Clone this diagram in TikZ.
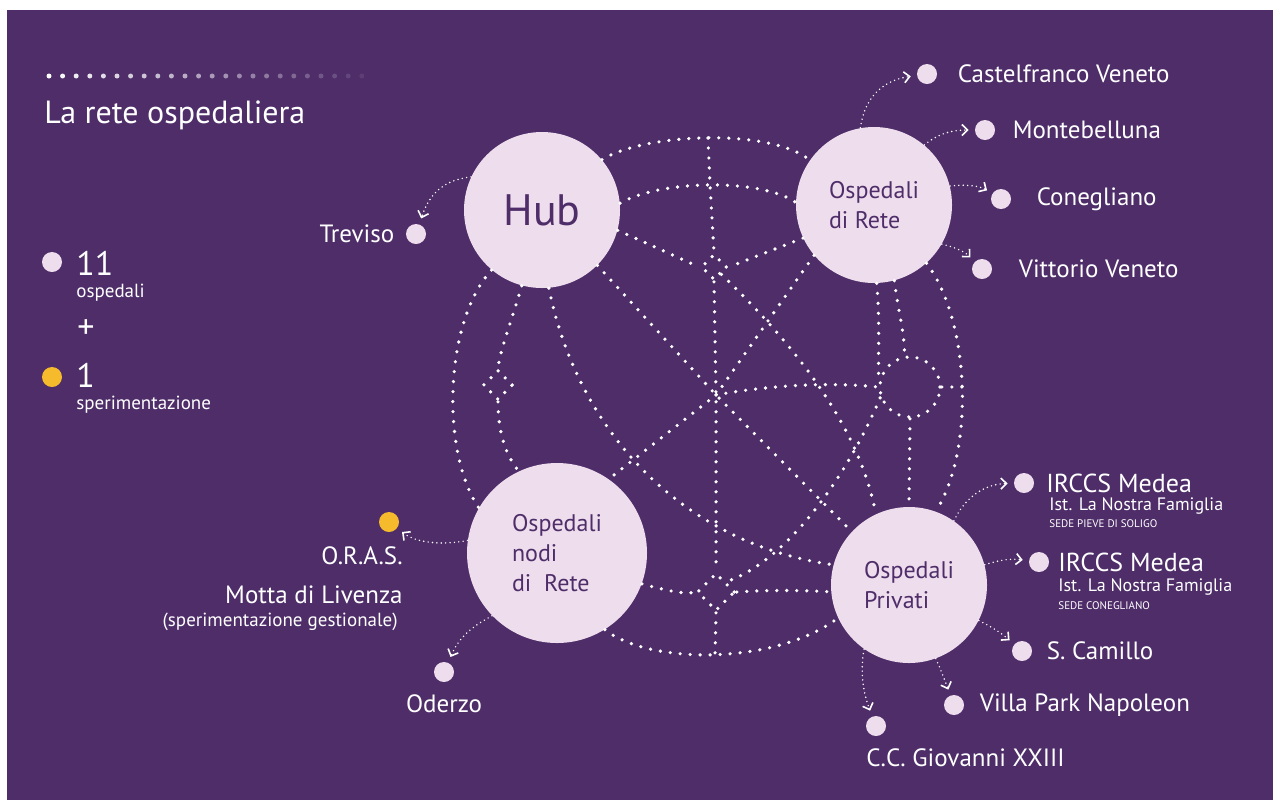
\documentclass[tikz,border=0pt]{standalone}
\usepackage{fontspec}
\setmainfont{PT Sans}
\usetikzlibrary{positioning,shapes.geometric,arrows.meta}
\definecolor{bgpurple}{RGB}{78,45,105}
\definecolor{lilac}{RGB}{237,221,237}
\definecolor{ambra}{RGB}{246,187,44}

\begin{document}
\begin{tikzpicture}[
        x=0.5pt, y=-0.5pt,
        bigcirc/.style={circle, fill=lilac, minimum size=78pt, inner sep=0pt, text=bgpurple, align=left, font=\fontsize{12}{15}\selectfont},
        dotnode/.style={circle, fill=lilac, minimum size=10pt, inner sep=0pt},
        spot/.style={dotnode, fill=ambra},
        net/.style={draw=white, line width=1.8pt, line cap=round, dash pattern=on 0pt off 5pt},
        joint/.style={net, inner sep=0pt},
        link/.style={draw=white, line width=0.8pt, line cap=round, dash pattern=on 0pt off 2.2pt,
            -{Straight Barb[length=2.8pt,width=5.5pt,line width=0.8pt]}, shorten >=3pt},
        lbl/.style={text=white, inner sep=0pt, font=\fontsize{12.5}{15}\selectfont},
        sub/.style={lbl, font=\fontsize{9.5}{11}\selectfont},
        note/.style={lbl, font=\fontsize{5.5}{7}\selectfont},
        big/.style={lbl, font=\fontsize{17}{19}\selectfont}
    ]
    \useasboundingbox (0,0) rectangle (1273,800);
    \fill[white] (0,0) rectangle (1273,800);
    \fill[bgpurple] (7,10) rectangle (1273,800);

    % Header
    \foreach \i in {0,...,23}{
        \pgfmathsetmacro\lev{100-\i*4}
        \fill[white!\lev!bgpurple] (49+\i*13.6,76) circle (1.25pt);
    }
    \node[lbl, anchor=base west, font=\fontsize{16}{18}\selectfont] (title) at (44,123) {La rete ospedaliera};

    % Legend
    \node[dotnode] (leg11) at (52,262) {};
    \node[big, anchor=base west] (n11) at (76,275) {11};
    \node[sub, anchor=base west] (ospedali) at (76,297) {ospedali};
    \node[big] (plus) at (86,329) {+};
    \node[spot] (leg1) at (52,377) {};
    \node[big, anchor=base west] (n1) at (76,387) {1};
    \node[sub, anchor=base west] (sper) at (76,409) {sperimentazione};

    % Main circles
    \node[bigcirc, font=\fontsize{22}{24}\selectfont] (hub) at (542,210) {Hub};
    \node[bigcirc] (rete) at (874,205) {Ospedali\\di Rete};
    \node[bigcirc, minimum size=90pt] (nodi) at (557,553) {Ospedali\\nodi\\di\ \ Rete};
    \node[bigcirc] (priv) at (909,585) {Ospedali\\Privati};

    % Junctions of the network
    \node[joint, diamond, minimum size=15pt] (jl) at (498,385) {};
    \node[joint, diamond, minimum size=13pt] (jt) at (714,267) {};
    \node[joint, circle, minimum size=30pt] (jr) at (910,387) {};
    \node[joint, diamond, minimum size=19pt] (jb) at (716,592) {};
    \coordinate (jc) at (716,395);
    \coordinate (mtop) at (708,138);
    \coordinate (mmid) at (710,185);
    \coordinate (mbot) at (715,655);
    \coordinate (eright) at (962,387);

    % Outer ring
    \draw[net] (hub.40) .. controls (645,133) and (770,128) .. (rete.145);
    \draw[net] (hub.-130) .. controls (445,320) and (440,450) .. (nodi.150);
    \draw[net] (nodi.-58) .. controls (650,665) and (775,665) .. (priv.205);
    \draw[net] (rete.-48) .. controls (970,320) and (975,450) .. (priv.70);

    % Inner ring
    \draw[net] (hub.5) .. controls (660,180) and (760,178) .. (rete.178);
    \draw[net] (hub.-105) .. controls (512,320) and (500,350) .. (jl.north);
    \draw[net] (jl.south) .. controls (498,430) and (505,455) .. (nodi.115);
    \draw[net] (nodi.-20) .. controls (665,590) and (685,595) .. (jb.west);
    \draw[net] (jb.east) .. controls (765,590) and (800,590) .. (priv.185);
    \draw[net] (rete.-88) .. controls (880,320) and (878,350) .. (jr.170);
    \draw[net] (rete.-75) .. controls (898,310) and (905,335) .. (jr.100);
    \draw[net] (jr.south) -- (priv.90);
    \draw[net] (jr.east) -- (eright);

    % Meridian
    \draw[net] (mtop) -- (mmid) -- (jt.north);
    \draw[net] (jt.south) -- (jc) -- (jb.north);
    \draw[net] (jb.south) -- (mbot);

    % Spokes
    \draw[net] (hub.-15) -- (jt.west);
    \draw[net] (rete.205) -- (jt.east);
    \draw[net] (jt.south east) .. controls (800,350) and (860,430) .. (priv.115);
    \draw[net] (hub.-45) -- (jc) -- (priv.137);
    \draw[net] (rete.220) -- (jc) -- (nodi.55);
    \draw[net] (jc) .. controls (770,385) and (830,382) .. (jr.west);
    \draw[net] (hub.-85) .. controls (580,440) and (690,545) .. (priv.165);
    \draw[net] (jr.200) .. controls (850,470) and (790,560) .. (jb.north east);

    % Hub
    \node[dotnode] (treviso) at (416,234) {};
    \node[lbl, left=5.5pt of treviso] (trevisoname) {Treviso};
    \draw[link] (hub.155) .. controls (445,180) and (430,192) .. (treviso);

    % Ospedali di Rete
    \node[dotnode] (castel) at (927,74) {};
    \node[lbl, right=10pt of castel] (castelname) {Castelfranco Veneto};
    \draw[link] (rete.100) .. controls (865,95) and (885,80) .. (castel);
    \node[dotnode] (monte) at (985,130) {};
    \node[lbl, right=8.5pt of monte] (montename) {Montebelluna};
    \draw[link] (rete.50) .. controls (940,132) and (955,130) .. (monte);
    \node[dotnode] (coneg) at (1001,199) {};
    \node[lbl, right=12.5pt of coneg] (conegname) {Conegliano};
    \draw[link] (rete.14) .. controls (965,184) and (980,186) .. (coneg);
    \node[dotnode] (vittorio) at (982,269) {};
    \node[lbl, right=13pt of vittorio] (vittorioname) {Vittorio Veneto};
    \draw[link] (rete.-30) .. controls (955,247) and (965,252) .. (vittorio);

    % Ospedali nodi di Rete
    \node[spot] (oras) at (389,522) {};
    \node[lbl, anchor=east] (orasname) at (403,556) {O.R.A.S.};
    \node[lbl, anchor=east] (motta) at (403,595) {Motta di Livenza};
    \node[sub, anchor=east] (gest) at (398,622) {(sperimentazione gestionale)};
    \draw[link] (nodi.172) .. controls (440,546) and (415,542) .. (oras);
    \node[dotnode] (oderzo) at (444,672) {};
    \node[lbl, below=6pt of oderzo] (oderzoname) {Oderzo};
    \draw[link] (nodi.224) .. controls (475,625) and (460,635) .. (oderzo);

    % Ospedali Privati
    \node[dotnode] (medea1) at (1024,483) {};
    \node[lbl, anchor=west, font=\fontsize{13}{15}\selectfont] (medea1name) at (1046,483) {IRCCS Medea};
    \node[sub, anchor=west, font=\fontsize{9}{11}\selectfont] (medea1ist) at (1049,506) {Ist. La Nostra Famiglia};
    \node[note, anchor=west] (medea1sede) at (1049,524) {SEDE PIEVE DI SOLIGO};
    \draw[link] (priv.55) .. controls (965,497) and (985,484) .. (medea1);
    \node[dotnode] (medea2) at (1039,562) {};
    \node[lbl, anchor=west, font=\fontsize{13}{15}\selectfont] (medea2name) at (1058,562) {IRCCS Medea};
    \node[sub, anchor=west, font=\fontsize{9}{11}\selectfont] (medea2ist) at (1058,587) {Ist. La Nostra Famiglia};
    \node[note, anchor=west] (medea2sede) at (1058,606) {SEDE CONEGLIANO};
    \draw[link] (priv.15) .. controls (997,561) and (1008,558) .. (medea2);
    \node[dotnode] (camillo) at (1022,651) {};
    \node[lbl, right=7pt of camillo] (camilloname) {S. Camillo};
    \draw[link] (priv.-27) .. controls (990,626) and (1000,632) .. (camillo);
    \node[dotnode] (villa) at (954,705) {};
    \node[lbl, right=7.5pt of villa] (villaname) {Villa Park Napoleon};
    \draw[link] (priv.-70) .. controls (940,668) and (944,678) .. (villa);
    \node[dotnode] (giovanni) at (876,726) {};
    \node[lbl, anchor=west] (giovanniname) at (866,758) {C.C. Giovanni XXIII};
    \draw[link] (priv.-125) .. controls (860,672) and (863,692) .. (giovanni);
\end{tikzpicture}
\end{document}
